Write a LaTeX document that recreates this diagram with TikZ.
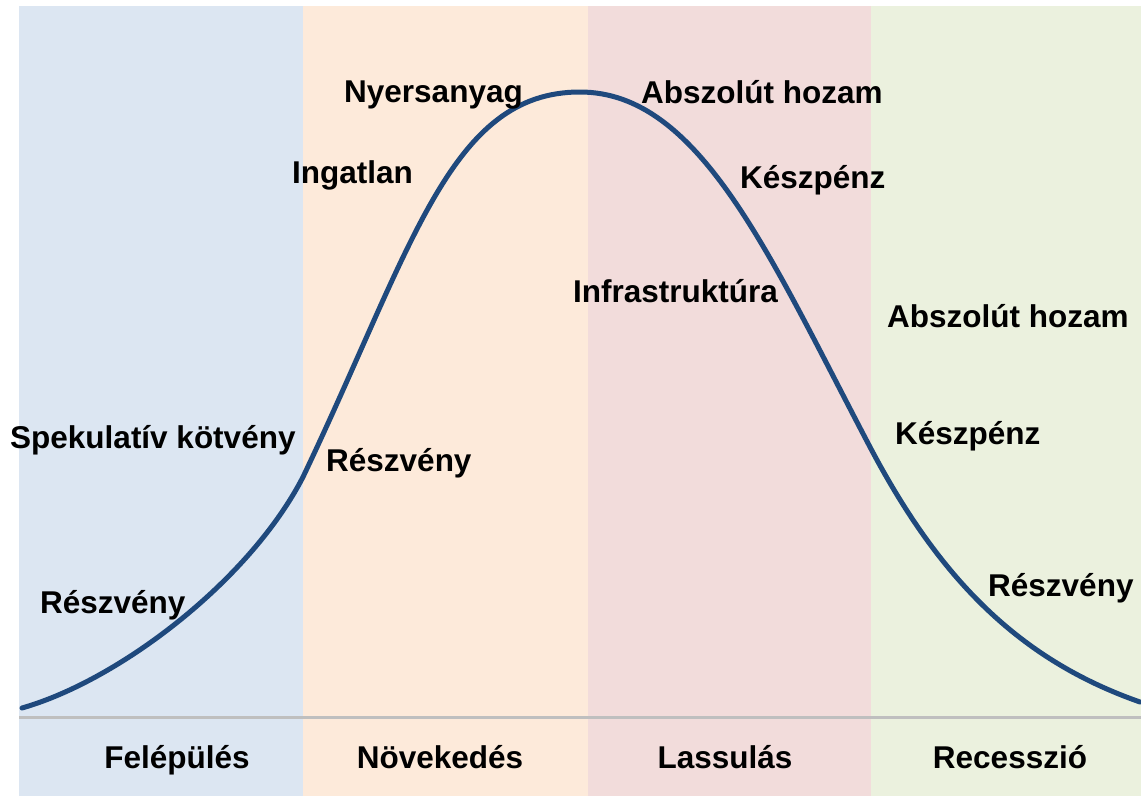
\documentclass[tikz,border=0pt]{standalone}
\usepackage{fontspec}
\setmainfont{Liberation Sans}
\begin{document}
\definecolor{bandblue}{HTML}{DCE6F2}
\definecolor{bandpeach}{HTML}{FDEADA}
\definecolor{bandpink}{HTML}{F2DCDB}
\definecolor{bandgreen}{HTML}{EBF1DE}
\definecolor{curveblue}{RGB}{31,73,125}
\definecolor{axisgray}{HTML}{BFBFBF}
\tikzset{
  lbl/.style={font=\fontsize{31.5}{36}\selectfont\bfseries, inner sep=0pt, anchor=base west, text=black},
  phase/.style={font=\fontsize{31.5}{36}\selectfont\bfseries, inner sep=0pt, anchor=base, text=black},
  cycle/.style={draw=curveblue, line width=5pt, line cap=round, line join=round},
  axisline/.style={draw=axisgray, line width=3pt}
}
\begin{tikzpicture}[x=1pt,y=-1pt]
\useasboundingbox (0,0) rectangle (1141,796);
\fill[white] (0,0) rectangle (1141,796);
% bands
\fill[bandblue]  (19,6) rectangle (303,796);
\fill[bandpeach] (303,6) rectangle (588,796);
\fill[bandpink]  (588,6) rectangle (871,796);
\fill[bandgreen] (871,6) rectangle (1141,796);
% axis
\coordinate (axL) at (19,717);
\coordinate (axR) at (1141,717);
\draw[axisline] (axL) -- (axR);
% curve
\coordinate (c0) at (22,708);
\coordinate (c1) at (303,477);
\coordinate (c2) at (580,92);
\coordinate (c3) at (870,447);
\coordinate (c4) at (1140,702);
\draw[cycle] (c0) .. controls (120,680) and (250,580) .. (c1)
             .. controls (413,246) and (450,92) .. (c2)
             .. controls (700,92) and (770,257) .. (c3)
             .. controls (940,580) and (1020,660) .. (c4);
% labels
\node[lbl] (nyers) at (344,102) {Nyersanyag};
\node[lbl] (ingat) at (292,183) {Ingatlan};
\node[lbl] (absz1) at (641,103) {Abszolút hozam};
\node[lbl] (kesz1) at (740,188) {Készpénz};
\node[lbl] (infra) at (573,302) {Infrastruktúra};
\node[lbl] (absz2) at (887,327) {Abszolút hozam};
\node[lbl] (spek)  at (10,448) {Spekulatív kötvény};
\node[lbl] (resz2) at (326,471) {Részvény};
\node[lbl] (kesz2) at (895,444) {Készpénz};
\node[lbl] (resz1) at (40,613) {Részvény};
\node[lbl] (resz3) at (988,596) {Részvény};
% phases
\node[phase] (p1) at (177,768) {Felépülés};
\node[phase] (p2) at (440,768) {Növekedés};
\node[phase] (p3) at (725,768) {Lassulás};
\node[phase] (p4) at (1010,768) {Recesszió};
\end{tikzpicture}
\end{document}
